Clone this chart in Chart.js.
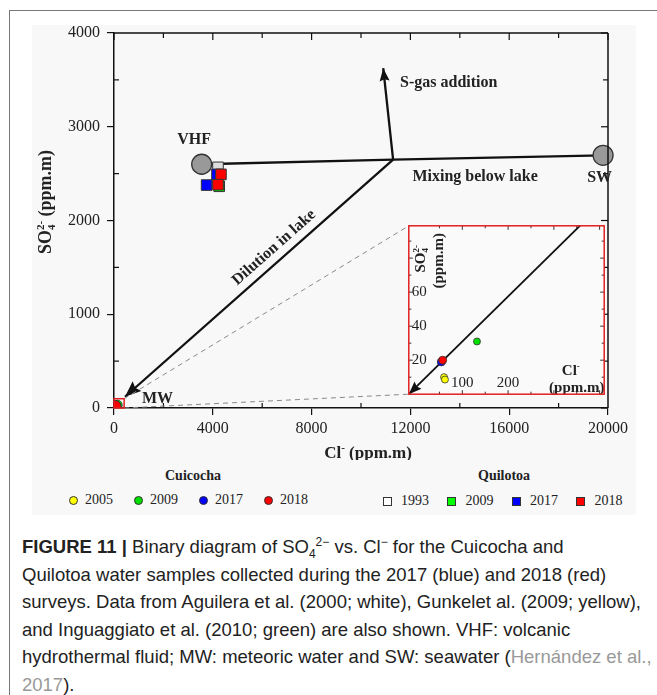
<!DOCTYPE html>
<html>
<head>
<meta charset="UTF-8">
<script src="https://cdn.jsdelivr.net/npm/chart.js@4.4.1/dist/chart.umd.min.js"></script>
<title>SO4 vs Cl - Cuicocha y Quilotoa</title>
<style>
  body { margin: 0; width: 657px; height: 695px; position: relative; overflow: hidden; background: #fff; }
  #frame { position: absolute; left: 9px; top: 10px; width: 700px; height: 720px; border-left: 1.5px solid #777; border-top: 1.5px solid #777; }
  #panel { position: absolute; left: 32px; top: 25px; width: 604px; height: 490px; background: #f8f8f8; }
  #mainChart { position: absolute; left: 0; top: 0; }
  #insetChart { position: absolute; left: 404px; top: 221px; }
  .lg { position: absolute; font-family: "Liberation Serif", serif; font-size: 14px; color: #222; white-space: nowrap; line-height: 16px; }
  .lgTitle { font-weight: bold; }
  .mk { position: absolute; width: 9px; height: 9px; border: 1px solid #333; box-sizing: border-box; }
  #caption { position: absolute; left: 22px; top: 533px; font-family: "Liberation Sans", Arial, sans-serif; font-size: 18.5px; line-height: 27.5px; color: #222; white-space: nowrap; }
  #caption sub, #caption sup { font-size: 12px; line-height: 0; }
  .ref { color: #999; }
</style>
</head>
<body>
<div id="frame"></div>
<div id="panel"></div>
<canvas id="mainChart" width="657" height="460"></canvas>
<canvas id="insetChart" width="205" height="178"></canvas>
<div id="legend"></div>
<div id="caption"><b>FIGURE 11 |</b> Binary diagram of SO<sub>4</sub><sup>2−</sup> vs. Cl<sup>−</sup> for the Cuicocha and<br>Quilotoa water samples collected during the 2017 (blue) and 2018 (red)<br>surveys. Data from Aguilera et al. (2000; white), Gunkelet al. (2009; yellow),<br>and Inguaggiato et al. (2010; green) are also shown. VHF: volcanic<br>hydrothermal fluid; MW: meteoric water and SW: seawater (<span class="ref">Hernández et al.,<br>2017</span>).</div>
<script>
// Cuicocha (circles) - Cl / SO4 in ppm.m
const cui2005Cl = [60, 62];   const cui2005SO4 = [10, 8.6];
const cui2009Cl = [132];      const cui2009SO4 = [31];
const cui2017Cl = [54];       const cui2017SO4 = [19];
const cui2018Cl = [57];       const cui2018SO4 = [20];
// Quilotoa (squares)
const qui1993Cl = [4210];        const qui1993SO4 = [2567];
const qui2009Cl = [4260];        const qui2009SO4 = [2365];
const qui2017Cl = [3750, 4170];  const qui2017SO4 = [2378, 2492];
const qui2018Cl = [4330, 4210];  const qui2018SO4 = [2492, 2382];
// end members VHF, SW and the mixing / dilution / S-gas vectors
const endCl = [3550, 19800];     const endSO4 = [2600, 2695];
const mixCl = [3550, 11300, 19800];  const mixSO4 = [2600, 2650, 2695];
const dilCl = [11300, 445];      const dilSO4 = [2650, 120];
const sgasCl = [11300, 10900];   const sgasSO4 = [2650, 3625];
const insetDilCl = [372, -17];   const insetDilSO4 = [103, 0];
// axes
const xMin = 0, xMax = 20000, xStep = 4000, xMinorStep = 2000;
const yMin = 0, yMax = 4000, yStep = 1000, yMinorStep = 500;
const insXMin = -17, insXMax = 410, insYMin = 0, insYMax = 99;
const insYLabels = [20, 40, 60];
const insXLabels = [100, 200];
// annotations (data coords)
const annText = ['VHF', 'S-gas addition', 'Mixing below lake', 'SW', 'MW'];
const annX = [3240, 11580, 14620, 19660, 1760];
const annY = [2860, 3472, 2467, 2459, 96];
const annAlign = ['center', 'left', 'center', 'center', 'center'];

const legYears = ['2005', '2009', '2017', '2018'];
const cuiColors = ['#ffff00', '#00e000', '#0000ff', '#ff0000'];
const quiYears = ['1993', '2009', '2017', '2018'];
const quiColors = ['#ffffff', '#00ff00', '#0000ff', '#ff0000'];

const SERIF = '"Liberation Serif", "Times New Roman", serif';
Chart.defaults.font.family = SERIF;

function xy(xs, ys) { return xs.map((v, i) => ({x: v, y: ys[i]})); }

function arrowHead(ctx, x1, y1, x2, y2, len, half) {
  const a = Math.atan2(y2 - y1, x2 - x1);
  ctx.save();
  ctx.translate(x2, y2);
  ctx.rotate(a);
  ctx.beginPath();
  ctx.moveTo(0, 0);
  ctx.lineTo(-len, -half);
  ctx.lineTo(-len * 0.85, 0);
  ctx.lineTo(-len, half);
  ctx.closePath();
  ctx.fillStyle = '#111';
  ctx.fill();
  ctx.restore();
}

function drawArrows(chart) {
  const ctx = chart.ctx;
  chart.data.datasets.forEach((ds, i) => {
    if (!ds.arrow) return;
    const pts = chart.getDatasetMeta(i).data;
    const p1 = pts[pts.length - 2], p2 = pts[pts.length - 1];
    arrowHead(ctx, p1.x, p1.y, p2.x, p2.y, ds.arrow[0], ds.arrow[1]);
  });
}

// text with sub/superscripts: runs of {t}, {sup}, {sub, sup}
function drawRuns(ctx, runs, cx, cy, size, angle) {
  ctx.save();
  ctx.translate(cx, cy);
  ctx.rotate(angle);
  const big = 'bold ' + size + 'px ' + SERIF;
  const small = 'bold ' + Math.round(size * 0.62) + 'px ' + SERIF;
  let w = 0;
  const widths = runs.map(r => {
    let rw;
    if (r.t !== undefined) { ctx.font = big; rw = ctx.measureText(r.t).width; }
    else {
      ctx.font = small;
      rw = Math.max(ctx.measureText(r.sup || '').width, ctx.measureText(r.sub || '').width);
    }
    w += rw;
    return rw;
  });
  let x = -w / 2;
  const base = size * 0.35;
  ctx.textAlign = 'left';
  ctx.textBaseline = 'alphabetic';
  ctx.fillStyle = '#222';
  runs.forEach((r, i) => {
    if (r.t !== undefined) { ctx.font = big; ctx.fillText(r.t, x, base); }
    else {
      ctx.font = small;
      if (r.sub) ctx.fillText(r.sub, x, base + size * 0.22);
      if (r.sup) ctx.fillText(r.sup, x, base - size * 0.42);
    }
    x += widths[i];
  });
  ctx.restore();
}

function seg(ctx, x1, y1, x2, y2) { ctx.beginPath(); ctx.moveTo(x1, y1); ctx.lineTo(x2, y2); ctx.stroke(); }

// ---------- inset ----------
const insetCanvas = document.getElementById('insetChart');
const insetPlugin = {
  id: 'insetDeco',
  beforeDraw(chart) {
    const {ctx, chartArea: a} = chart;
    ctx.save();
    ctx.fillStyle = '#fafafa';
    ctx.fillRect(a.left, a.top, a.right - a.left, a.bottom - a.top);
    ctx.restore();
  },
  afterDatasetsDraw(chart) { drawArrows(chart); },
  afterDraw(chart) {
    const {ctx, chartArea: a, scales: {x, y}} = chart;
    ctx.save();
    ctx.strokeStyle = '#333';
    ctx.lineWidth = 1;
    for (let v = 10; v < insYMax; v += 10) {
      const py = y.getPixelForValue(v);
      const l = v % 20 === 0 ? 4 : 2.5;
      seg(ctx, a.left, py, a.left + l, py);
      seg(ctx, a.right, py, a.right - l, py);
    }
    for (let v = 50; v < insXMax; v += 50) {
      const px = x.getPixelForValue(v);
      const l = v % 100 === 0 ? 4 : 2.5;
      seg(ctx, px, a.bottom, px, a.bottom - l);
      seg(ctx, px, a.top, px, a.top + l);
    }
    ctx.fillStyle = '#222';
    ctx.font = '15px ' + SERIF;
    ctx.textAlign = 'left';
    ctx.textBaseline = 'middle';
    insYLabels.forEach(v => ctx.fillText(String(v), a.left + 3, y.getPixelForValue(v)));
    ctx.textAlign = 'center';
    insXLabels.forEach(v => ctx.fillText(String(v), x.getPixelForValue(v), a.bottom - 11));
    drawRuns(ctx, [{t: 'SO'}, {sub: '4', sup: '2-'}], a.left + 11, a.top + 33, 15, -Math.PI / 2);
    drawRuns(ctx, [{t: '(ppm.m)'}], a.left + 29, a.top + 35, 15, -Math.PI / 2);
    drawRuns(ctx, [{t: 'Cl'}, {sup: '-'}], a.left + 162, a.top + 144, 15, 0);
    drawRuns(ctx, [{t: '(ppm.m)'}], a.left + 168, a.top + 161, 15, 0);
    ctx.strokeStyle = '#e02020';
    ctx.lineWidth = 1.5;
    ctx.strokeRect(a.left, a.top, a.right - a.left, a.bottom - a.top);
    ctx.restore();
  }
};

const cuiSets = (r) => [
  {label: 'Cuicocha 2018', data: xy(cui2018Cl, cui2018SO4), pointRadius: r, backgroundColor: '#ff0000', borderColor: '#333', borderWidth: 0.8, order: 5},
  {label: 'Cuicocha 2017', data: xy(cui2017Cl, cui2017SO4), pointRadius: r, backgroundColor: '#0000ff', borderColor: '#333', borderWidth: 0.8, order: 6},
  {label: 'Cuicocha 2009', data: xy(cui2009Cl, cui2009SO4), pointRadius: r - 0.5, backgroundColor: '#00e000', borderColor: '#333', borderWidth: 0.8, order: 7},
  {label: 'Cuicocha 2005', data: xy(cui2005Cl, cui2005SO4), pointRadius: r - 0.5, backgroundColor: '#ffff00', borderColor: '#333', borderWidth: 0.8, order: 8}
];

const insetChart = new Chart(insetCanvas, {
  type: 'scatter',
  data: {
    datasets: cuiSets(4).concat([
      {label: 'Dilution', data: xy(insetDilCl, insetDilSO4), showLine: true, pointRadius: 0, borderColor: '#111', borderWidth: 1.8, order: 20, arrow: [13, 5]}
    ])
  },
  options: {
    responsive: false,
    animation: false,
    events: [],
    layout: {padding: 1},
    plugins: {legend: {display: false}, tooltip: {enabled: false}},
    scales: {
      x: {type: 'linear', min: insXMin, max: insXMax, display: false},
      y: {type: 'linear', min: insYMin, max: insYMax, display: false}
    }
  },
  plugins: [insetPlugin]
});

// ---------- main ----------
const mainPlugin = {
  id: 'mainDeco',
  afterDatasetsDraw(chart) { drawArrows(chart); },
  afterDraw(chart) {
    const {ctx, chartArea: a, scales: {x, y}} = chart;
    ctx.save();
    ctx.strokeStyle = '#111';
    ctx.lineWidth = 1.5;
    seg(ctx, a.left, a.top, a.right, a.top);
    seg(ctx, a.right, a.top, a.right, a.bottom);
    ctx.lineWidth = 1.2;
    for (let v = xMin; v <= xMax; v += xMinorStep) {
      const px = x.getPixelForValue(v);
      const major = v % xStep === 0;
      seg(ctx, px, a.top, px, a.top + (major ? 7 : 5));
      if (!major) seg(ctx, px, a.bottom, px, a.bottom - 5);
    }
    for (let v = yMin; v <= yMax; v += yMinorStep) {
      const py = y.getPixelForValue(v);
      const major = v % yStep === 0;
      seg(ctx, a.right, py, a.right - (major ? 7 : 5), py);
      if (!major) seg(ctx, a.left, py, a.left + 5, py);
    }
    // annotations
    ctx.fillStyle = '#222';
    ctx.font = 'bold 16px ' + SERIF;
    ctx.textBaseline = 'middle';
    annText.forEach((t, i) => {
      ctx.textAlign = annAlign[i];
      ctx.fillText(t, x.getPixelForValue(annX[i]), y.getPixelForValue(annY[i]));
    });
    const dx0 = x.getPixelForValue(dilCl[0]), dy0 = y.getPixelForValue(dilSO4[0]);
    const dx1 = x.getPixelForValue(dilCl[1]), dy1 = y.getPixelForValue(dilSO4[1]);
    ctx.save();
    ctx.translate(x.getPixelForValue(6480), y.getPixelForValue(1712));
    ctx.rotate(Math.atan2(dy0 - dy1, dx0 - dx1));
    ctx.textAlign = 'center';
    ctx.fillText('Dilution in lake', 0, 0);
    ctx.restore();
    // axis titles
    drawRuns(ctx, [{t: 'Cl'}, {sup: '-'}, {t: ' (ppm.m)'}], (a.left + a.right) / 2 + 7, 452, 17, 0);
    drawRuns(ctx, [{t: 'SO'}, {sub: '4', sup: '2-'}, {t: ' (ppm.m)'}], 45, 202, 18, -Math.PI / 2);
    // inset domain marker + connectors
    const sL = x.getPixelForValue(insXMin), sR = x.getPixelForValue(insXMax);
    const sT = y.getPixelForValue(insYMax), sB = y.getPixelForValue(insYMin);
    const ib = insetChart.chartArea;
    const ox = insetCanvas.offsetLeft, oy = insetCanvas.offsetTop;
    ctx.strokeStyle = '#888';
    ctx.lineWidth = 1;
    ctx.setLineDash([5, 4]);
    seg(ctx, sR, sT, ox + ib.left, oy + ib.top);
    seg(ctx, sR, sB, ox + ib.left, oy + ib.bottom);
    ctx.setLineDash([]);
    ctx.strokeStyle = '#e02020';
    ctx.lineWidth = 1.5;
    ctx.strokeRect(Math.max(sL, a.left), sT, sR - Math.max(sL, a.left), sB - sT);
    ctx.restore();
  }
};

const sq = (label, xs, ys, color, order) => ({
  label: label, data: xy(xs, ys), pointStyle: 'rect', pointRadius: 7.5,
  backgroundColor: color, borderColor: '#333', borderWidth: 1, order: order
});

const plainNum = v => String(v);

new Chart(document.getElementById('mainChart'), {
  type: 'scatter',
  data: {
    datasets: [
      {label: 'VHF / SW', data: xy(endCl, endSO4), pointRadius: 10, backgroundColor: '#999999', borderColor: '#333', borderWidth: 1.3, clip: false, order: 0},
      sq('Quilotoa 2018', qui2018Cl, qui2018SO4, '#ff0000', 1),
      sq('Quilotoa 2017', qui2017Cl, qui2017SO4, '#0000ff', 2),
      sq('Quilotoa 2009', qui2009Cl, qui2009SO4, '#00ff00', 3),
      sq('Quilotoa 1993', qui1993Cl, qui1993SO4, '#dddddd', 4),
      ...cuiSets(5.5),
      {label: 'Mixing below lake', data: xy(mixCl, mixSO4), showLine: true, pointRadius: 0, borderColor: '#111', borderWidth: 2.3, order: 20},
      {label: 'Dilution in lake', data: xy(dilCl, dilSO4), showLine: true, pointRadius: 0, borderColor: '#111', borderWidth: 2.3, order: 20, clip: false, arrow: [16, 6.5]},
      {label: 'S-gas addition', data: xy(sgasCl, sgasSO4), showLine: true, pointRadius: 0, borderColor: '#111', borderWidth: 2.3, order: 20, arrow: [13, 5]}
    ]
  },
  options: {
    responsive: false,
    animation: false,
    events: [],
    layout: {padding: {left: 0, top: 33, right: 49, bottom: 0}},
    plugins: {legend: {display: false}, tooltip: {enabled: false}},
    scales: {
      x: {
        type: 'linear', min: xMin, max: xMax,
        afterFit: s => { s.height = 52; },
        ticks: {stepSize: xStep, callback: plainNum, font: {family: SERIF, size: 16}, color: '#222', padding: 4, maxRotation: 0},
        grid: {drawOnChartArea: false, tickLength: 7, color: '#111', lineWidth: 1.2},
        border: {color: '#111', width: 1.5}
      },
      y: {
        type: 'linear', min: yMin, max: yMax,
        afterFit: s => { s.width = 114; },
        ticks: {stepSize: yStep, callback: plainNum, font: {family: SERIF, size: 16}, color: '#222', padding: 7},
        grid: {drawOnChartArea: false, tickLength: 7, color: '#111', lineWidth: 1.2},
        border: {color: '#111', width: 1.5}
      }
    }
  },
  plugins: [mainPlugin]
});

// legend (html)
const legend = document.getElementById('legend');
function addLg(html, left, top, cls) {
  const d = document.createElement('div');
  d.className = 'lg' + (cls ? ' ' + cls : '');
  d.innerHTML = html;
  d.style.left = left + 'px';
  d.style.top = top + 'px';
  legend.appendChild(d);
  return d;
}
function addMk(color, cx, cy, round) {
  const m = document.createElement('div');
  m.className = 'mk';
  m.style.left = (cx - 4.5) + 'px';
  m.style.top = (cy - 4.5) + 'px';
  m.style.background = color;
  m.style.borderRadius = round ? '50%' : '0';
  legend.appendChild(m);
}
addLg('Cuicocha', 165, 468, 'lgTitle');
addLg('Quilotoa', 478, 468, 'lgTitle');
legYears.forEach((yr, i) => {
  const cx = 73 + i * 65;
  addMk(cuiColors[i], cx, 500, true);
  addLg(yr, cx + 12, 492);
});
quiYears.forEach((yr, i) => {
  const cx = 387 + i * 64.5;
  addMk(quiColors[i], cx, 501, false);
  addLg(yr, cx + 14, 493);
});
</script>
</body>
</html>
